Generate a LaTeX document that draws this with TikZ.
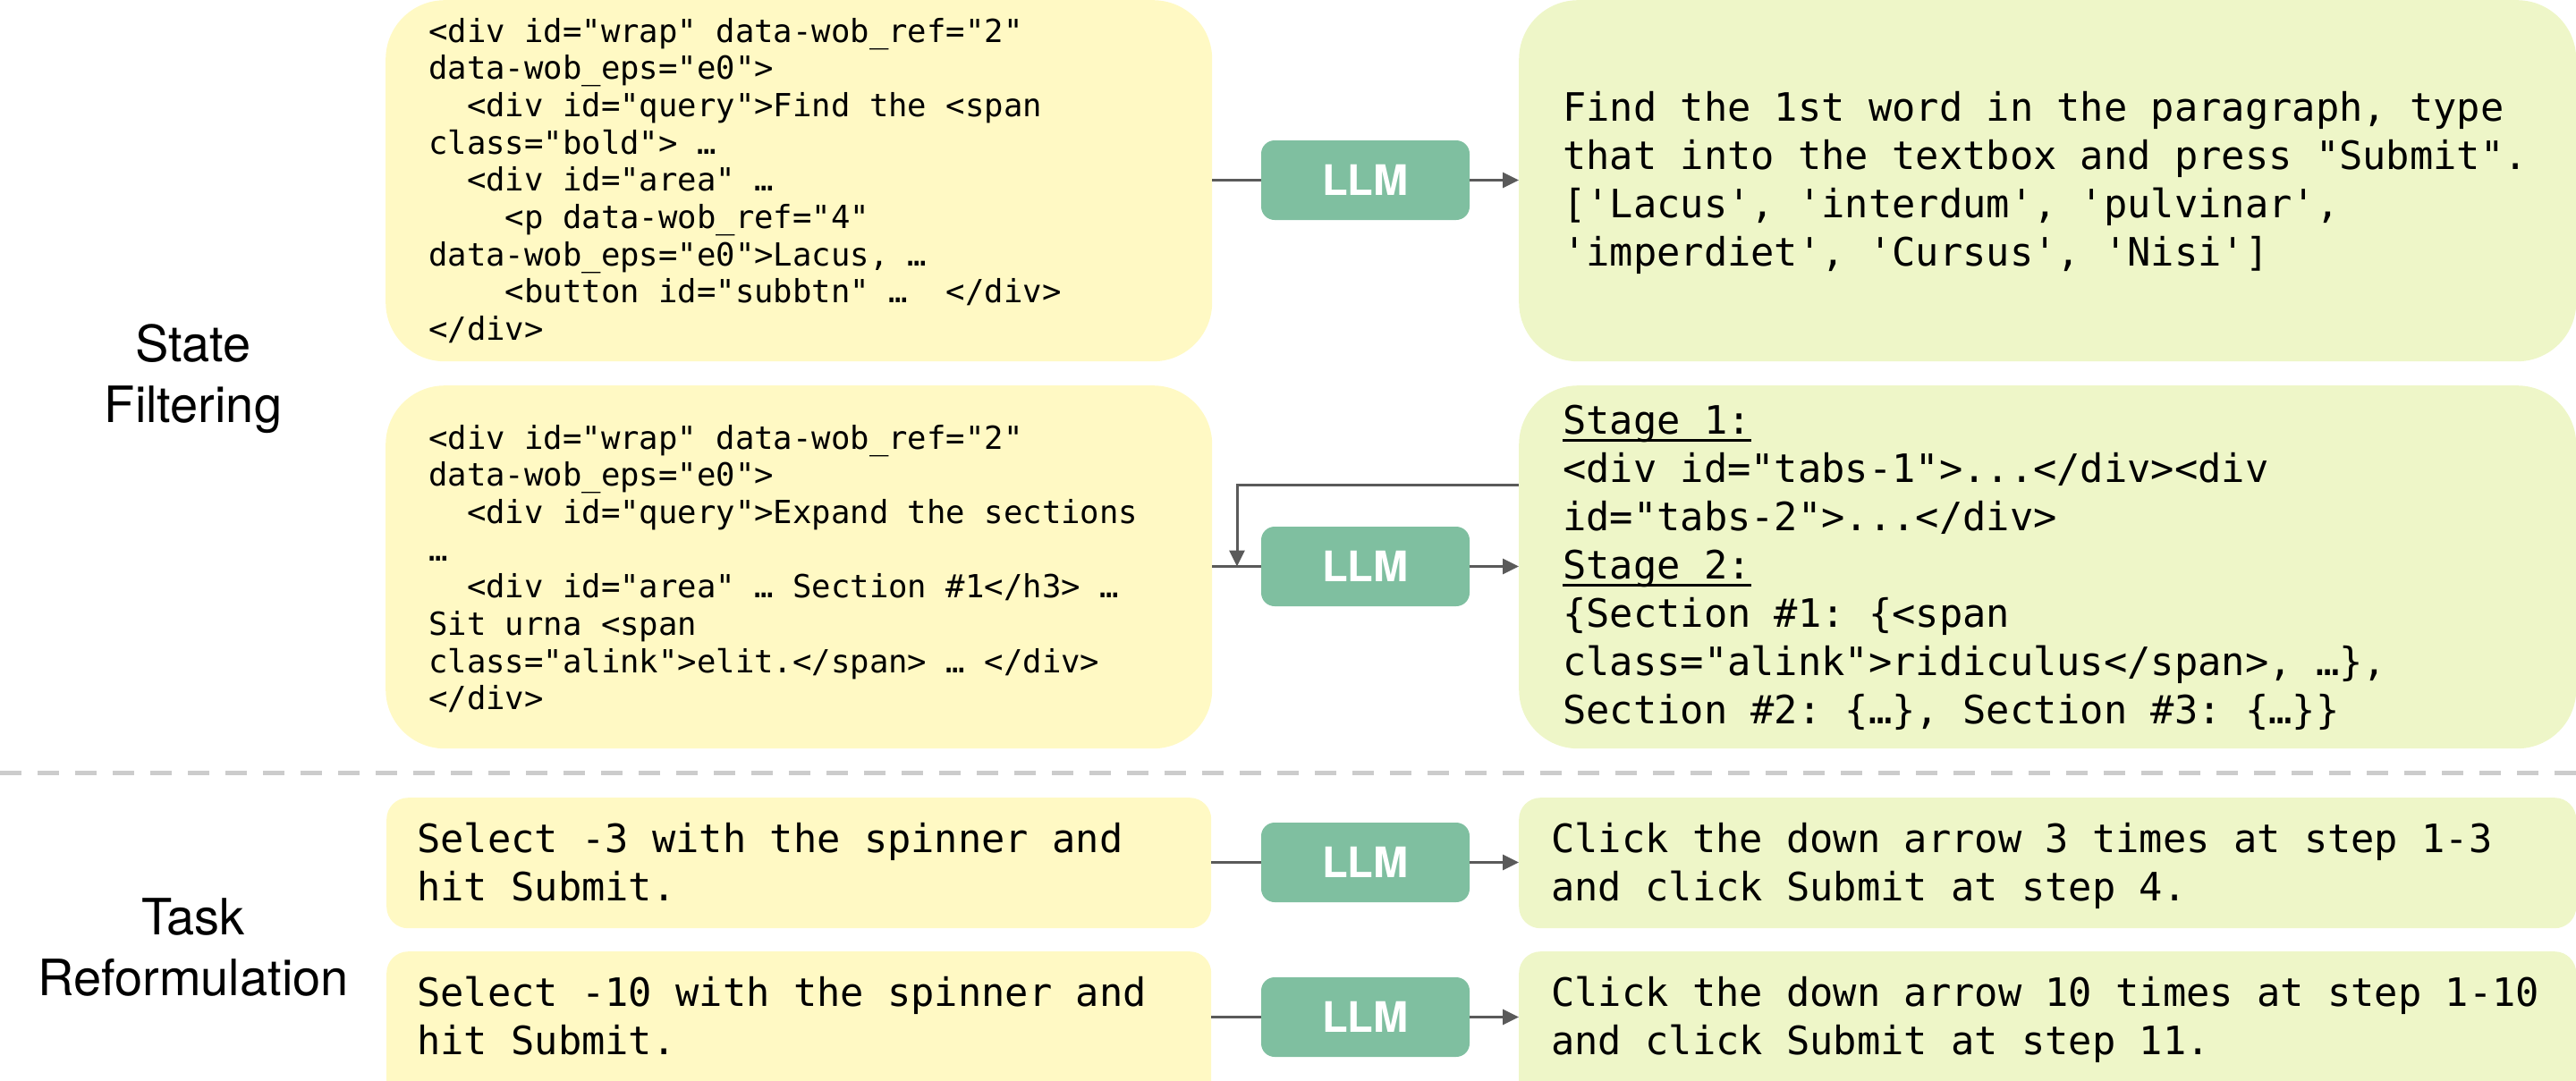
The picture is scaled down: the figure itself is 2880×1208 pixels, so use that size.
\documentclass[tikz,border=0pt]{standalone}
\usepackage{fontspec}
\setmainfont{TeX Gyre Heros}
\setmonofont{DejaVu Sans Mono}
\usetikzlibrary{arrows.meta}
\definecolor{inboxfill}{HTML}{FFF9C4}
\definecolor{outboxfill}{HTML}{EEF6C8}
\definecolor{llmfill}{HTML}{7FBFA0}
\definecolor{wiregray}{HTML}{5A5A5A}
\definecolor{dividergray}{HTML}{CCCCCC}
% left-aligned block of lines whose baseline is the first line
\newcommand{\codelines}[1]{\begin{tabular}[t]{@{}l@{}}#1\end{tabular}}
\newcommand{\labellines}[1]{\begin{tabular}[t]{@{}c@{}}#1\end{tabular}}
% heading with a rule drawn just under the baseline
\newcommand{\stagehead}[1]{\setbox0\hbox{#1}\rlap{\rule[-9pt]{\wd0}{3pt}}\box0}
\begin{document}
\frenchspacing
\begin{tikzpicture}[x=1pt,y=-1pt,
  panel/.style={rectangle, draw=none, inner sep=0pt, anchor=north west},
  inbig/.style={panel, fill=inboxfill, rounded corners=66pt, minimum width=924pt},
  outbig/.style={panel, fill=outboxfill, rounded corners=66pt, minimum width=1182pt},
  insmall/.style={panel, fill=inboxfill, rounded corners=24pt, minimum width=922pt},
  outsmall/.style={panel, fill=outboxfill, rounded corners=24pt, minimum width=1182pt},
  llm/.style={rectangle, fill=llmfill, rounded corners=15pt, inner sep=0pt,
    minimum width=233pt, minimum height=89pt, text=white,
    font=\fontsize{47}{47}\selectfont\bfseries},
  code/.style={anchor=base west, inner sep=0pt, font=\ttfamily\fontsize{35.6}{41.7}\selectfont},
  prose/.style={anchor=base west, inner sep=0pt, font=\ttfamily\fontsize{43.7}{54}\selectfont},
  rowlabel/.style={anchor=base, inner sep=0pt, font=\fontsize{56}{68}\selectfont},
  link/.style={draw=wiregray, line width=3pt},
  flow/.style={link, -{Triangle[length=18pt,width=17pt]}},
]
\useasboundingbox (0,0) rectangle (2880,1208);

% row labels
\node[rowlabel] (lblstate) at (216,404) {\labellines{State\\Filtering}};
\node[rowlabel] (lbltask) at (216,1045) {\labellines{Task\\Reformulation}};

% panels
\node[inbig, minimum height=404pt] (A) at (431,0) {};
\node[outbig, minimum height=404pt] (B) at (1698,0) {};
\node[inbig, minimum height=406pt] (C) at (431,431) {};
\node[outbig, minimum height=406pt] (D) at (1698,431) {};
\node[insmall, minimum height=146pt] (E) at (432,892) {};
\node[outsmall, minimum height=146pt] (F) at (1698,892) {};
\node[insmall, minimum height=176pt] (G) at (432,1064) {};
\node[outsmall, minimum height=176pt] (H) at (1698,1064) {};

% separator between the two parts
\coordinate (divL) at (0,864);
\coordinate (divR) at (2880,864);
\draw[dividergray, line width=5pt, dash pattern=on 24pt off 18pt] (divL) -- (divR);

% LLM blocks
\node[llm] (L1) at (1526.5,201.5) {LLM};
\node[llm] (L2) at (1526.5,633.5) {LLM};
\node[llm] (L3) at (1526.5,964.5) {LLM};
\node[llm] (L4) at (1526.5,1137.5) {LLM};

% panel texts
\node[code] (tA) at (479,47) {\codelines{%
<div id="wrap" data-wob\_ref="2"\\
data-wob\_eps="e0">\\
\phantom{xx}<div id="query">Find the <span\\
class="bold"> …\\
\phantom{xx}<div id="area" …\\
\phantom{xxxx}<p data-wob\_ref="4"\\
data-wob\_eps="e0">Lacus, …\\
\phantom{xxxx}<button id="subbtn" …\ \ </div>\\
</div>}};

\node[code] (tC) at (479,502) {\codelines{%
<div id="wrap" data-wob\_ref="2"\\
data-wob\_eps="e0">\\
\phantom{xx}<div id="query">Expand the sections\\
…\\
\phantom{xx}<div id="area" … Section \#1</h3> …\\
Sit urna <span\\
class="alink">elit.</span> … </div>\\
</div>}};

\node[prose] (tB) at (1747,135) {\codelines{%
Find the 1st word in the paragraph, type\\
that into the textbox and press "Submit".\\
{[}'Lacus', 'interdum', 'pulvinar',\\
'imperdiet', 'Cursus', 'Nisi']}};

\node[prose] (tD) at (1747,485) {\codelines{%
\stagehead{Stage 1:}\\
<div id="tabs-1">...</div><div\\
id="tabs-2">...</div>\\
\stagehead{Stage 2:}\\
\{Section \#1: \{<span\\
class="alink">ridiculus</span>, …\},\\
Section \#2: \{…\}, Section \#3: \{…\}\}}};

\node[prose] (tE) at (466,953) {\codelines{%
Select -3 with the spinner and\\
hit Submit.}};
\node[prose] (tG) at (466,1125) {\codelines{%
Select -10 with the spinner and\\
hit Submit.}};
\node[prose] (tF) at (1734,953) {\codelines{%
Click the down arrow 3 times at step 1-3\\
and click Submit at step 4.}};
\node[prose] (tH) at (1734,1125) {\codelines{%
Click the down arrow 10 times at step 1-10\\
and click Submit at step 11.}};

% connectors
\draw[link] (A.east |- L1.west) -- (L1.west);
\draw[flow] (L1.east) -- (B.west |- L1.east);
\draw[link] (C.east |- L2.west) -- (L2.west);
\draw[flow] (L2.east) -- (D.west |- L2.east);
\coordinate (turn) at (1383,542);
\draw[flow] (D.west |- turn) -- (turn) -- (turn |- L2.west);
\draw[link] (E.east |- L3.west) -- (L3.west);
\draw[flow] (L3.east) -- (F.west |- L3.east);
\draw[link] (G.east |- L4.west) -- (L4.west);
\draw[flow] (L4.east) -- (H.west |- L4.east);
\end{tikzpicture}
\end{document}
